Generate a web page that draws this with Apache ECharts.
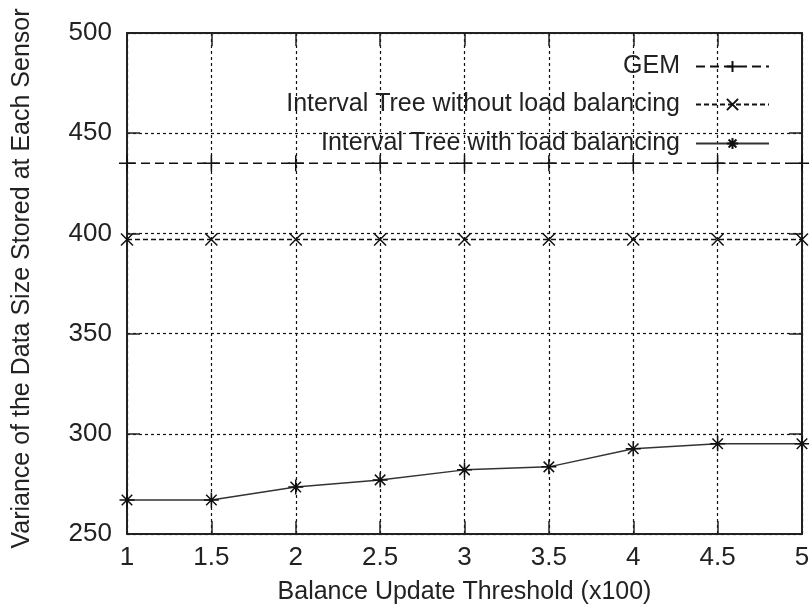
<!DOCTYPE html>
<html>
<head>
<meta charset="utf-8">
<script src="https://cdn.jsdelivr.net/npm/echarts@6/dist/echarts.min.js"></script>
<style>
  html, body { margin: 0; padding: 0; background: #fff; }
  #chart { width: 809px; height: 612px; }
</style>
</head>
<body>
<div id="chart"></div>
<script>
// Balance update threshold (x100)
const thresholds = [1, 1.5, 2, 2.5, 3, 3.5, 4, 4.5, 5];
const gemVariance = [435, 435, 435, 435, 435, 435, 435, 435, 435];
const treeNoBalance = [397, 397, 397, 397, 397, 397, 397, 397, 397];
const treeWithBalance = [267, 267, 273.5, 277, 282, 283.5, 292.5, 295, 295];
const seriesNames = ['GEM', 'Interval Tree without load balancing', 'Interval Tree with load balancing'];

// stroked point glyphs: plus, cross, asterisk
const plusPath = 'path://M5,0L5,10M0,5L10,5';
const crossPath = 'path://M0,0L10,10M10,0L0,10';
const starPath = 'path://M5,0L5,10M0,5L10,5M1.5,1.5L8.5,8.5M8.5,1.5L1.5,8.5';

const pairs = vals => thresholds.map((x, i) => [x, vals[i]]);
const FONT = 'Liberation Sans, Arial, sans-serif';
const TEXT = '#222';

const chart = echarts.init(document.getElementById('chart'));

const tickStyle = { show: true, inside: true, length: 13, lineStyle: { color: '#222', width: 1.5 } };
const gridDots = { show: true, lineStyle: { color: '#111', type: [3, 3], width: 1.2 } };

function legendFor(name, top) {
  return {
    data: [name], right: 39, top: top, align: 'right', orient: 'vertical',
    padding: 0, itemWidth: 73, itemHeight: 14, selectedMode: false,
    textStyle: { fontFamily: FONT, fontSize: 25, color: TEXT, padding: [0, 11, 0, 0] }
  };
}

chart.setOption({
  animation: false,
  backgroundColor: '#fff',
  grid: { left: 127, right: 7, top: 33, bottom: 78, show: false, outerBoundsMode: 'none', containLabel: false },
  legend: [legendFor(seriesNames[0], 54), legendFor(seriesNames[1], 92), legendFor(seriesNames[2], 131)],
  xAxis: [
    {
      type: 'value', min: 1, max: 5, interval: 0.5,
      name: 'Balance Update Threshold (x100)', nameLocation: 'middle', nameGap: 46,
      nameTextStyle: { fontFamily: FONT, fontSize: 25, color: TEXT },
      axisLine: { show: true, lineStyle: { color: '#222', width: 2 } },
      axisTick: tickStyle,
      axisLabel: { fontFamily: FONT, fontSize: 26, color: TEXT, margin: 11 },
      splitLine: gridDots
    },
    {
      type: 'value', position: 'top', min: 1, max: 5, interval: 0.5,
      axisLine: { show: true, lineStyle: { color: '#222', width: 2 } },
      axisTick: tickStyle, axisLabel: { show: false }, splitLine: { show: false }
    }
  ],
  yAxis: [
    {
      type: 'value', min: 250, max: 500, interval: 50,
      name: 'Variance of the Data Size Stored at Each Sensor', nameLocation: 'middle', nameGap: 92,
      nameTextStyle: { fontFamily: FONT, fontSize: 25, color: TEXT, padding: [0, 0, 0, 10] },
      axisLine: { show: true, lineStyle: { color: '#222', width: 2 } },
      axisTick: tickStyle,
      axisLabel: { fontFamily: FONT, fontSize: 26, color: TEXT, margin: 15 },
      splitLine: gridDots
    },
    {
      type: 'value', position: 'right', min: 250, max: 500, interval: 50,
      axisLine: { show: true, lineStyle: { color: '#222', width: 2 } },
      axisTick: tickStyle, axisLabel: { show: false }, splitLine: { show: false }
    }
  ],
  series: [
    {
      name: seriesNames[0], type: 'line', data: pairs(gemVariance),
      symbol: plusPath, symbolSize: 16, showAllSymbol: true,
      lineStyle: { color: '#111', width: 1.5, type: [9, 5] },
      itemStyle: { color: 'none', borderColor: '#111', borderWidth: 1.5 }
    },
    {
      name: seriesNames[1], type: 'line', data: pairs(treeNoBalance),
      symbol: crossPath, symbolSize: 12, showAllSymbol: true,
      lineStyle: { color: '#111', width: 1.5, type: [5, 3] },
      itemStyle: { color: 'none', borderColor: '#111', borderWidth: 1.5 }
    },
    {
      name: seriesNames[2], type: 'line', data: pairs(treeWithBalance),
      symbol: starPath, symbolSize: 15, showAllSymbol: true,
      lineStyle: { color: '#333', width: 1.5 },
      itemStyle: { color: 'none', borderColor: '#111', borderWidth: 1.5 }
    }
  ]
});
</script>
</body>
</html>
